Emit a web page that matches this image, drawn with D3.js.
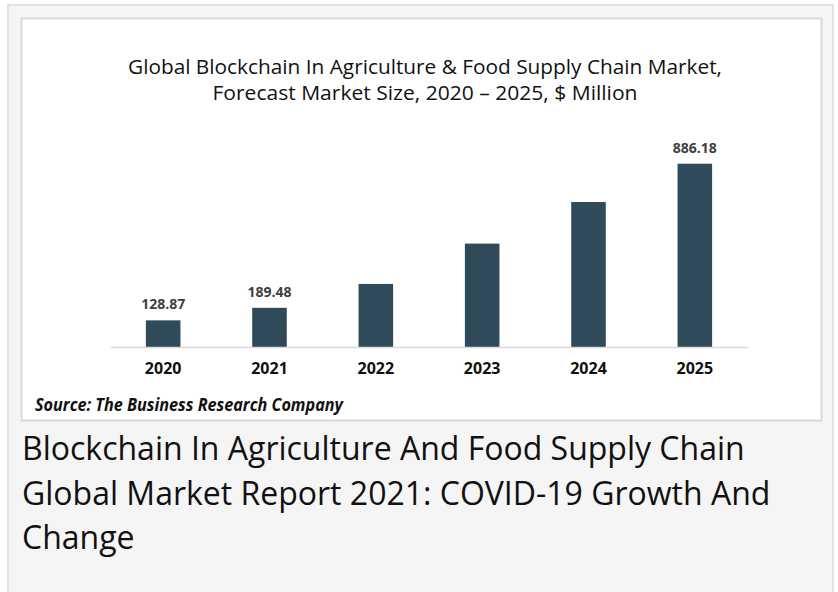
<!DOCTYPE html>
<html>
<head>
<meta charset="utf-8">
<script src="https://cdn.jsdelivr.net/npm/d3@7"></script>
<style>
  body { margin: 0; background: #fff; }
  svg { display: block; }
</style>
</head>
<body>
<div id="chart"></div>
<script>
// data
var years = ["2020", "2021", "2022", "2023", "2024", "2025"];
var marketSize = [128.87, 189.48, 305, 500, 701, 886.18];
var valueLabels = ["128.87", "189.48", "", "", "", "886.18"];
var titleLines = ["Global Blockchain In Agriculture & Food Supply Chain Market,",
                  "Forecast Market Size, 2020 \u2013 2025, $ Million"];
var headingLines = ["Blockchain In Agriculture And Food Supply Chain",
                    "Global Market Report 2021: COVID-19 Growth And",
                    "Change"];
var sourceText = "Source: The Business Research Company";

var width = 838, height = 592;

var svg = d3.select("#chart").append("svg")
    .attr("width", width)
    .attr("height", height);

// page frame
svg.append("rect")
    .attr("x", 8).attr("y", 5)
    .attr("width", 825).attr("height", 600)
    .style("fill", "#f5f5f5")
    .style("stroke", "#e2e2e2")
    .style("stroke-width", 2);

svg.append("rect")
    .attr("x", 21.5).attr("y", 18.5)
    .attr("width", 800).attr("height", 402)
    .style("fill", "#fff")
    .style("stroke", "#dadada")
    .style("stroke-width", 2);

// chart title (the original font is narrower, so fit it to the measured widths)
var titleWidths = [594, 425];
svg.selectAll(".title")
    .data(titleLines)
    .enter().append("text")
    .attr("class", "title")
    .attr("x", function (d, i) { return 425 - titleWidths[i] / 2; })
    .attr("y", function (d, i) { return 74 + i * 26; })
    .attr("textLength", function (d, i) { return titleWidths[i]; })
    .attr("lengthAdjust", "spacingAndGlyphs")
    .style("font-family", "'Open Sans', sans-serif")
    .style("font-size", "19.5px")
    .style("fill", "#111")
    .text(function (d) { return d; });

var x = d3.scaleBand()
    .domain(years)
    .range([110, 748])
    .paddingInner(0.675)
    .paddingOuter(0.3375);

var y = d3.scaleLinear()
    .domain([0, 1000])
    .range([347, 140.2]);

var g = svg.append("g");

g.selectAll(".bar")
    .data(marketSize)
    .enter().append("rect")
    .attr("class", "bar")
    .attr("x", function (d, i) { return x(years[i]); })
    .attr("y", function (d) { return y(d); })
    .attr("width", x.bandwidth())
    .attr("height", function (d) { return y(0) - y(d); })
    .style("fill", "#2f4a58");

// baseline axis, no ticks
var xAxis = g.append("g")
    .attr("transform", "translate(0," + y(0) + ")")
    .call(d3.axisBottom(x).tickSize(0).tickPadding(16));
xAxis.select(".domain")
    .attr("stroke", "#d9d9d9")
    .attr("stroke-width", 1.5);
xAxis.selectAll("text")
    .style("font-family", "'Open Sans', sans-serif")
    .style("font-size", "16px")
    .style("font-weight", "bold")
    .style("fill", "#111");

g.selectAll(".val")
    .data(marketSize)
    .enter().append("text")
    .attr("class", "val")
    .attr("x", function (d, i) { return x(years[i]) + x.bandwidth() / 2; })
    .attr("y", function (d) { return y(d) - 11; })
    .attr("text-anchor", "middle")
    .style("font-family", "'Open Sans', sans-serif")
    .style("font-size", "14px")
    .style("font-weight", "bold")
    .style("fill", "#404040")
    .text(function (d, i) { return valueLabels[i]; });

// source note
svg.append("text")
    .attr("x", 35)
    .attr("y", 411)
    .attr("textLength", 308)
    .attr("lengthAdjust", "spacingAndGlyphs")
    .style("font-family", "'Open Sans', sans-serif")
    .style("font-size", "17px")
    .style("font-weight", "bold")
    .style("font-style", "italic")
    .style("fill", "#111")
    .text(sourceText);

// page heading under the chart
svg.selectAll(".heading")
    .data(headingLines)
    .enter().append("text")
    .attr("class", "heading")
    .attr("x", 22)
    .attr("y", function (d, i) { return 460 + i * 44.5; })
    .style("font-family", "'Open Sans', sans-serif")
    .style("font-size", "32px")
    .style("fill", "#111")
    .text(function (d) { return d; });
</script>
</body>
</html>
